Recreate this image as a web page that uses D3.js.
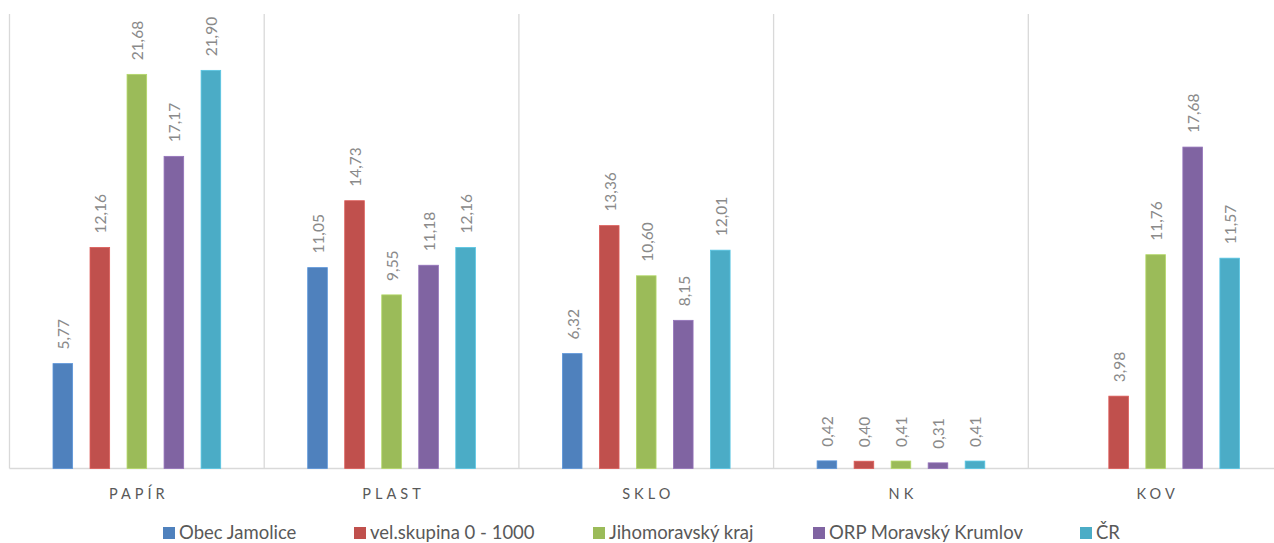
<!DOCTYPE html>
<html><head><meta charset="utf-8">
<script src="https://cdn.jsdelivr.net/npm/d3@7"></script>
<style>body{margin:0;background:#fff}svg{display:block}</style>
</head><body>
<svg id="c" width="1274" height="543"></svg>
<script>
const categories = ["PAPÍR", "PLAST", "SKLO", "NK", "KOV"];
const seriesNames = ["Obec Jamolice", "vel.skupina 0 - 1000", "Jihomoravský kraj", "ORP Moravský Krumlov", "ČR"];
const obecJamolice = [5.77, 11.05, 6.32, 0.42, null];
const velSkupina = [12.16, 14.73, 13.36, 0.40, 3.98];
const jihomoravsky = [21.68, 9.55, 10.60, 0.41, 11.76];
const orpKrumlov = [17.17, 11.18, 8.15, 0.31, 17.68];
const cr = [21.90, 12.16, 12.01, 0.41, 11.57];
const colors = ["#4F81BD", "#C0504D", "#9BBB59", "#8064A2", "#4BACC6"];
const series = [obecJamolice, velSkupina, jihomoravsky, orpKrumlov, cr];

const svg = d3.select("#c");
const font = "Lato, 'Open Sans', sans-serif";
const plotLeft = 9.5, catW = 254.7, plotTop = 14, base = 468.5;
const x0 = d3.scaleBand().domain(categories).range([plotLeft, plotLeft + catW * categories.length]).padding(0);
const x1 = d3.scaleBand().domain(d3.range(seriesNames.length)).range([43.5, catW - 43.5]).paddingInner(0.47).paddingOuter(0);
const y = d3.scaleLinear().domain([0, 25]).range([base, plotTop]);

// separators
const seps = d3.range(categories.length + 1).map(i => plotLeft + catW * i);
svg.selectAll("line.sep").data(seps).enter().append("line")
  .attr("x1", d => d).attr("x2", d => d).attr("y1", plotTop).attr("y2", base)
  .attr("stroke", "#d9d9d9").attr("stroke-width", 1.3);
svg.append("line").attr("x1", plotLeft).attr("x2", 1274).attr("y1", base).attr("y2", base)
  .attr("stroke", "#d9d9d9").attr("stroke-width", 1.3);

const g = svg.selectAll("g.cat").data(categories).enter().append("g")
  .attr("transform", d => `translate(${x0(d)},0)`);
g.each(function(cat, ci) {
  const gg = d3.select(this);
  series.forEach((s, si) => {
    const v = s[ci];
    if (v == null) return;
    gg.append("rect").attr("x", x1(si)).attr("width", x1.bandwidth())
      .attr("y", y(v)).attr("height", base - y(v)).attr("fill", colors[si])
      .attr("stroke", d3.color(colors[si]).brighter(0.4)).attr("stroke-width", 0.8);
    const cx = x1(si) + x1.bandwidth() / 2 + 1;
    gg.append("text").attr("transform", `translate(${cx},${y(v) - 14}) rotate(-90)`)
      .attr("dy", "0.35em").attr("font-family", font).attr("font-size", 15.5)
      .attr("fill", "#8a8a8a").text(v.toFixed(2).replace(".", ","));
  });
});

// category labels
svg.selectAll("text.cat").data(categories).enter().append("text")
  .attr("x", d => x0(d) + catW / 2 + 2).attr("y", 499)
  .attr("text-anchor", "middle").attr("font-family", font).attr("font-size", 14.5)
  .attr("letter-spacing", "4px").attr("fill", "#595959").text(d => d);

// legend
const legX = [163, 354, 593, 813, 1080];
const lg = svg.selectAll("g.leg").data(seriesNames).enter().append("g")
  .attr("transform", (d, i) => `translate(${legX[i]},527)`);
lg.append("rect").attr("width", 12).attr("height", 12).attr("y", 0).attr("fill", (d, i) => colors[i]);
lg.append("text").attr("x", 16).attr("y", 12).attr("font-family", font).attr("font-size", 18.5)
  .attr("fill", "#595959").text(d => d);
</script>
</body></html>
